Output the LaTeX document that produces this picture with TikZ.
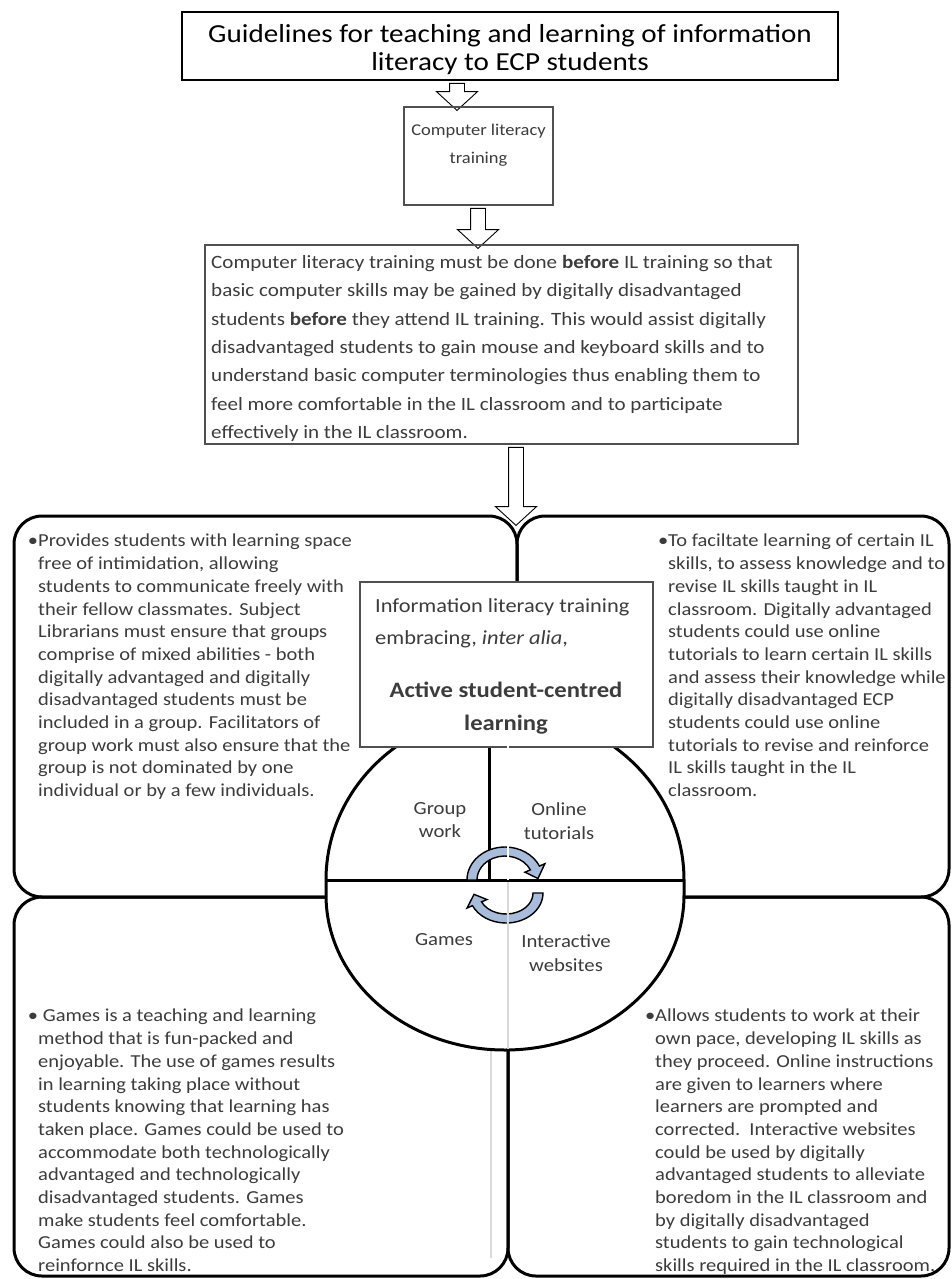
\documentclass[tikz,border=0pt]{standalone}
\usepackage{fontspec}
\setmainfont{Carlito}[FakeStretch=1.12]
\usetikzlibrary{shapes.arrows}

\definecolor{txtgray}{HTML}{3C3C3C}
\definecolor{boxgray}{HTML}{505050}
\definecolor{ringblue}{HTML}{A8BCDB}

\newcommand{\titlefont}{\fontsize{26}{28.5}\selectfont}
\newcommand{\stepfont}{\fontsize{16.5}{28}\selectfont}
\newcommand{\bodyfont}{\fontsize{18.8}{28.4}\selectfont}
\newcommand{\quadfont}{\fontsize{18.3}{22.7}\selectfont}
\newcommand{\centrefont}{\fontsize{20}{32}\selectfont}
\newcommand{\activefont}{\fontsize{22}{33}\selectfont\bfseries}
\newcommand{\segfont}{\fontsize{18.5}{23.5}\selectfont}

\tikzset{
  framebox/.style={draw=#1, line width=1.3pt, inner sep=0pt},
  framebox/.default=black,
  downarrow/.style={single arrow, draw=black, fill=white, line width=0.9pt,
    rotate=-90, single arrow head extend=13pt, single arrow tip angle=95,
    inner xsep=0pt, inner ysep=7pt},
  quadbox/.style={draw=black, line width=3pt, rounded corners=28pt},
  plaintext/.style={inner sep=0pt, text=txtgray, align=left},
  quadtext/.style={plaintext, font=\quadfont},
  segtext/.style={inner sep=0pt, text=txtgray, align=center, font=\segfont},
  ringarrow/.style={draw=black, line width=1.4pt, fill=ringblue}
}

\begin{document}
\begin{tikzpicture}[x=1pt, y=1pt, yscale=-1]
\fill[white] (0,0) rectangle (951,1279);
\useasboundingbox (0,0) rectangle (951,1279);

% top of the flow
\node[framebox, minimum width=656pt, minimum height=68pt] (title) at (510,46) {};
\node[inner sep=0pt, font=\titlefont, align=center, anchor=north] (titletext) at (510,24)
  {Guidelines for teaching and learning of information\\literacy to ECP students};
\node[downarrow, minimum height=27pt] (arrA) at (457,93.5) {};
\node[framebox=boxgray, minimum width=149pt, minimum height=98pt] (cltbox) at (478.5,156) {};
\node[plaintext, font=\stepfont, align=center, anchor=north] (clttext) at (478.5,124) {Computer literacy\\training};
\node[downarrow, minimum height=40pt] (arrB) at (478,225) {};
\node[framebox=boxgray, minimum width=593pt, minimum height=199pt] (prebox) at (501.5,344.5) {};
\node[plaintext, font=\bodyfont, anchor=north west] (pretext) at (211,255)
  {Computer literacy training must be done \textbf{before} IL training so that\\
   basic computer skills may be gained by digitally disadvantaged\\
   students \textbf{before} they attend IL training. This would assist digitally\\
   disadvantaged students to gain mouse and keyboard skills and to\\
   understand basic computer terminologies thus enabling them to\\
   feel more comfortable in the IL classroom and to participate\\
   effectively in the IL classroom.};
\node[downarrow, minimum height=78pt] (arrC) at (516,483) {};

% four quadrants
\draw[quadbox] (14,516) rectangle (517,897);
\draw[quadbox] (517,516) rectangle (949,897);
\draw[quadbox] (14,897) rectangle (508,1276);
\draw[quadbox] (508,897) rectangle (949,1276);
\draw[black!15, line width=1.5pt] (491,1050) -- (491,1258);

% central disc
\draw[line width=3pt, fill=white] (326,880) arc[start angle=180, end angle=360, x radius=179, y radius=168]
  -- (684,895) arc[start angle=0, end angle=180, x radius=179, y radius=155] -- cycle;
\draw[line width=3pt] (326,880) -- (684,880);
\draw[line width=3pt] (489,747) -- (489,880);

\node[framebox=boxgray, fill=white, line width=1.6pt, minimum width=293pt, minimum height=165pt] (cbox) at (506.5,664.5) {};
\node[plaintext, font=\centrefont, anchor=north west] (cbintro) at (375,598)
  {Information literacy training\\embracing, \textit{inter alia},};
\node[plaintext, font=\activefont, align=center, anchor=north] (cbactive) at (506,682)
  {Active student-centred\\learning};

% cycle arrows
\begin{scope}[shift={(505,880)}]
\draw[ringarrow] (180:38 and 33) arc[start angle=180, end angle=335, x radius=38, y radius=33]
  -- (335:44 and 38.5) -- (357:33 and 28.5) -- (335:22 and 18.5) -- (335:28 and 24)
  arc[start angle=335, end angle=180, x radius=28, y radius=24] -- cycle;
\end{scope}
\begin{scope}[shift={(506,893)}]
\draw[ringarrow] (0:37 and 30) arc[start angle=0, end angle=155, x radius=37, y radius=30]
  -- (155:43 and 35.5) -- (177:32 and 25.5) -- (155:21 and 15.5) -- (155:27 and 21)
  arc[start angle=155, end angle=0, x radius=27, y radius=21] -- cycle;
\end{scope}
\draw[white, line width=2pt] (508,745) -- (508,880);
\draw[black!15, line width=1.5pt] (508,882) -- (508,1049);

\node[segtext] (gwlabel) at (440,820) {Group\\work};
\node[segtext] (otlabel) at (559,821) {Online\\tutorials};
\node[segtext] (gmlabel) at (444,940) {Games};
\node[segtext] (iwlabel) at (566,953) {Interactive\\websites};

% quadrant texts
\node[quadtext, anchor=north west] (gwtext) at (38,534)
  {\llap{•}Provides students with learning space\\
   free of intimidation, allowing\\
   students to communicate freely with\\
   their fellow classmates. Subject\\
   Librarians must ensure that groups\\
   comprise of mixed abilities - both\\
   digitally advantaged and digitally\\
   disadvantaged students must be\\
   included in a group. Facilitators of\\
   group work must also ensure that the\\
   group is not dominated by one\\
   individual or by a few individuals.};
\node[quadtext, anchor=north west] (ottext) at (668,534)
  {\llap{•}To faciltate learning of certain IL\\
   skills, to assess knowledge and to\\
   revise IL skills taught in IL\\
   classroom. Digitally advantaged\\
   students could use online\\
   tutorials to learn certain IL skills\\
   and assess their knowledge while\\
   digitally disadvantaged ECP\\
   students could use online\\
   tutorials to revise and reinforce\\
   IL skills taught in the IL\\
   classroom.};
\node[quadtext, anchor=north west] (gmtext) at (38,1009)
  {\llap{•} Games is a teaching and learning\\
   method that is fun-packed and\\
   enjoyable. The use of games results\\
   in learning taking place without\\
   students knowing that learning has\\
   taken place. Games could be used to\\
   accommodate both technologically\\
   advantaged and technologically\\
   disadvantaged students. Games\\
   make students feel comfortable.\\
   Games could also be used to\\
   reinfornce IL skills.};
\node[quadtext, anchor=north west] (iwtext) at (655,1009)
  {\llap{•}Allows students to work at their\\
   own pace, developing IL skills as\\
   they proceed. Online instructions\\
   are given to learners where\\
   learners are prompted and\\
   corrected.\ \ Interactive websites\\
   could be used by digitally\\
   advantaged students to alleviate\\
   boredom in the IL classroom and\\
   by digitally disadvantaged\\
   students to gain technological\\
   skills required in the IL classroom.};
\end{tikzpicture}
\end{document}
